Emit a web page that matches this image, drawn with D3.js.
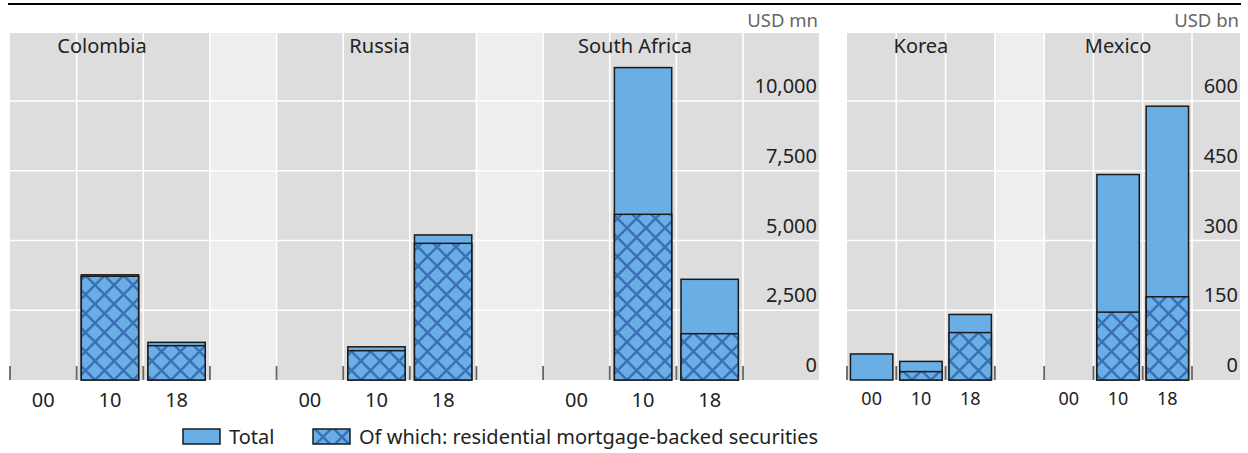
<!DOCTYPE html>
<html>
<head>
<meta charset="utf-8">
<script src="https://cdn.jsdelivr.net/npm/d3@7"></script>
<style>
  html, body { margin: 0; padding: 0; background: #ffffff; }
  svg { display: block; font-family: "Noto Sans", "Open Sans", sans-serif; }
</style>
</head>
<body>
<svg id="chart" width="1248" height="453"></svg>
<script>
// ---- data ----
const years = ["00", "10", "18"];

// Left block, USD mn
const leftCountries = ["Colombia", "Russia", "South Africa"];
const colombiaTotal = [0, 3770, 1350];
const colombiaRmbs  = [0, 3720, 1230];
const russiaTotal   = [0, 1190, 5200];
const russiaRmbs    = [0, 1050, 4900];
const southAfricaTotal = [0, 11200, 3610];
const southAfricaRmbs  = [0, 5940, 1660];
const leftTicks = [0, 2500, 5000, 7500, 10000];
const leftUnit = "USD mn";

// Right block, USD bn
const rightCountries = ["Korea", "Mexico"];
const koreaTotal  = [56, 40, 141];
const koreaRmbs   = [0, 18, 102];
const mexicoTotal = [0, 442, 589];
const mexicoRmbs  = [0, 146, 179];
const rightTicks = [0, 150, 300, 450, 600];
const rightUnit = "USD bn";

const legendLabels = ["Total", "Of which: residential mortgage-backed securities"];

const seriesByCountry = {
  "Colombia": [colombiaTotal, colombiaRmbs],
  "Russia": [russiaTotal, russiaRmbs],
  "South Africa": [southAfricaTotal, southAfricaRmbs],
  "Korea": [koreaTotal, koreaRmbs],
  "Mexico": [mexicoTotal, mexicoRmbs]
};

// ---- styles ----
const C = {
  panel: "#dddddd",
  gap: "#eeeeee",
  grid: "#ffffff",
  bar: "#6aaee6",
  hatch: "#3a70b5",
  stroke: "#1a1a1a",
  tick: "#666666",
  text: "#222222",
  unit: "#666666"
};

const svg = d3.select("#chart");
const defs = svg.append("defs");
const pat = defs.append("pattern")
  .attr("id", "xhatch")
  .attr("patternUnits", "userSpaceOnUse")
  .attr("width", 19).attr("height", 19);
pat.append("rect").attr("width", 19).attr("height", 19).attr("fill", C.bar);
pat.append("path")
  .attr("d", "M-1,-1 L20,20 M20,-1 L-1,20")
  .attr("stroke", C.hatch).attr("stroke-width", 2.5).attr("fill", "none");

// Top rule
svg.append("line")
  .attr("x1", 8).attr("x2", 1241).attr("y1", 4).attr("y2", 4)
  .attr("stroke", "#000").attr("stroke-width", 2.2);

function drawPanel(cfg) {
  const { countries, left, slotEnd, right, ymax, ticks, unit, fmt, catFont, titleDx } = cfg;
  const top = 33, bottom = 380;

  // slot keys: each country gets 3 year slots, countries separated by a gap slot
  const slots = [];
  countries.forEach((c, i) => {
    years.forEach(yr => slots.push({ key: c + "|" + yr, country: c, year: yr, gap: false }));
    if (i < countries.length - 1) slots.push({ key: "gap" + i, gap: true });
  });

  const x = d3.scaleBand()
    .domain(slots.map(s => s.key))
    .range([left, slotEnd])
    .paddingInner(0.14)
    .paddingOuter(0.07);
  const step = x.step();
  const slotStart = k => x(k) - step * 0.07;

  const y = d3.scaleLinear().domain([0, ymax]).range([bottom, top]);

  const g = svg.append("g");

  // backgrounds
  g.append("rect")
    .attr("x", left).attr("y", top)
    .attr("width", right - left).attr("height", bottom - top)
    .attr("fill", C.panel);
  g.selectAll("rect.gap")
    .data(slots.filter(s => s.gap))
    .join("rect").attr("class", "gap")
    .attr("x", d => slotStart(d.key)).attr("y", top)
    .attr("width", step).attr("height", bottom - top)
    .attr("fill", C.gap);

  // grid
  g.selectAll("line.hgrid")
    .data(ticks.filter(t => t > 0))
    .join("line").attr("class", "hgrid")
    .attr("x1", left).attr("x2", right)
    .attr("y1", d => y(d)).attr("y2", d => y(d))
    .attr("stroke", C.grid).attr("stroke-width", 1.6);
  const bounds = slots.slice(1).map(s => slotStart(s.key)).concat([slotEnd]);
  g.selectAll("line.vgrid")
    .data(bounds)
    .join("line").attr("class", "vgrid")
    .attr("x1", d => d).attr("x2", d => d)
    .attr("y1", top).attr("y2", bottom)
    .attr("stroke", C.grid).attr("stroke-width", 1.6);

  // bottom ticks at slot boundaries
  const tickXs = [left].concat(bounds);
  g.selectAll("line.xtick")
    .data(tickXs)
    .join("line").attr("class", "xtick")
    .attr("x1", d => d).attr("x2", d => d)
    .attr("y1", bottom - 14).attr("y2", bottom)
    .attr("stroke", C.tick).attr("stroke-width", 1.8);

  // bars
  const barData = [];
  slots.filter(s => !s.gap).forEach(s => {
    const [tot, rm] = seriesByCountry[s.country];
    const i = years.indexOf(s.year);
    barData.push({ key: s.key, total: tot[i], rmbs: rm[i] });
  });
  const bars = g.selectAll("g.bar").data(barData.filter(d => d.total > 0)).join("g").attr("class", "bar");
  bars.append("rect")
    .attr("x", d => x(d.key)).attr("width", x.bandwidth())
    .attr("y", d => y(d.total)).attr("height", d => y(0) - y(d.total))
    .attr("fill", C.bar).attr("stroke", C.stroke).attr("stroke-width", 1.5);
  bars.filter(d => d.rmbs > 0).append("rect")
    .attr("x", d => x(d.key)).attr("width", x.bandwidth())
    .attr("y", d => y(d.rmbs)).attr("height", d => y(0) - y(d.rmbs))
    .attr("fill", "url(#xhatch)").attr("stroke", C.stroke).attr("stroke-width", 1.5);

  // category labels
  g.selectAll("text.cat")
    .data(slots.filter(s => !s.gap))
    .join("text").attr("class", "cat")
    .attr("x", d => x(d.key) + x.bandwidth() / 2)
    .attr("y", catFont.y)
    .attr("text-anchor", "middle")
    .attr("font-size", catFont.size)
    .attr("fill", C.text)
    .text(d => d.year);

  // country titles, over the middle year slot
  g.selectAll("text.title")
    .data(countries)
    .join("text").attr("class", "title")
    .attr("x", (d, i) => x(d + "|" + years[1]) + x.bandwidth() / 2 + titleDx[i])
    .attr("y", 53)
    .attr("text-anchor", "middle")
    .attr("font-size", 20)
    .attr("fill", C.text)
    .text(d => d);

  // value axis labels, right aligned inside the panel
  g.selectAll("text.ylab")
    .data(ticks)
    .join("text").attr("class", "ylab")
    .attr("x", right - 2)
    .attr("y", d => y(d) - 8)
    .attr("text-anchor", "end")
    .attr("font-size", 20)
    .attr("fill", C.text)
    .text(d => fmt(d));

  // unit label
  g.append("text")
    .attr("x", right - 1).attr("y", 27)
    .attr("text-anchor", "end")
    .attr("font-size", 18.5)
    .attr("fill", C.unit)
    .text(unit);
}

drawPanel({
  countries: leftCountries, left: 10, slotEnd: 743, right: 819,
  ymax: 12440, ticks: leftTicks, unit: leftUnit, fmt: d3.format(","),
  catFont: { size: 20, y: 407 }, titleDx: [-8, 3, -8]
});
drawPanel({
  countries: rightCountries, left: 847, slotEnd: 1192, right: 1240,
  ymax: 746.4, ticks: rightTicks, unit: rightUnit, fmt: d3.format(","),
  catFont: { size: 18, y: 405 }, titleDx: [0, 0]
});

// legend
const legend = svg.append("g");
const legendItems = [
  { label: legendLabels[0], fill: C.bar, x: 183 },
  { label: legendLabels[1], fill: "url(#xhatch)", x: 313 }
];
legend.selectAll("rect")
  .data(legendItems).join("rect")
  .attr("x", d => d.x).attr("y", 429)
  .attr("width", 37).attr("height", 15)
  .attr("fill", d => d.fill).attr("stroke", C.stroke).attr("stroke-width", 1.5);
legend.selectAll("text")
  .data(legendItems).join("text")
  .attr("x", d => d.x + 46).attr("y", 444)
  .attr("font-size", 20)
  .attr("fill", C.text)
  .text(d => d.label);
</script>
</body>
</html>
